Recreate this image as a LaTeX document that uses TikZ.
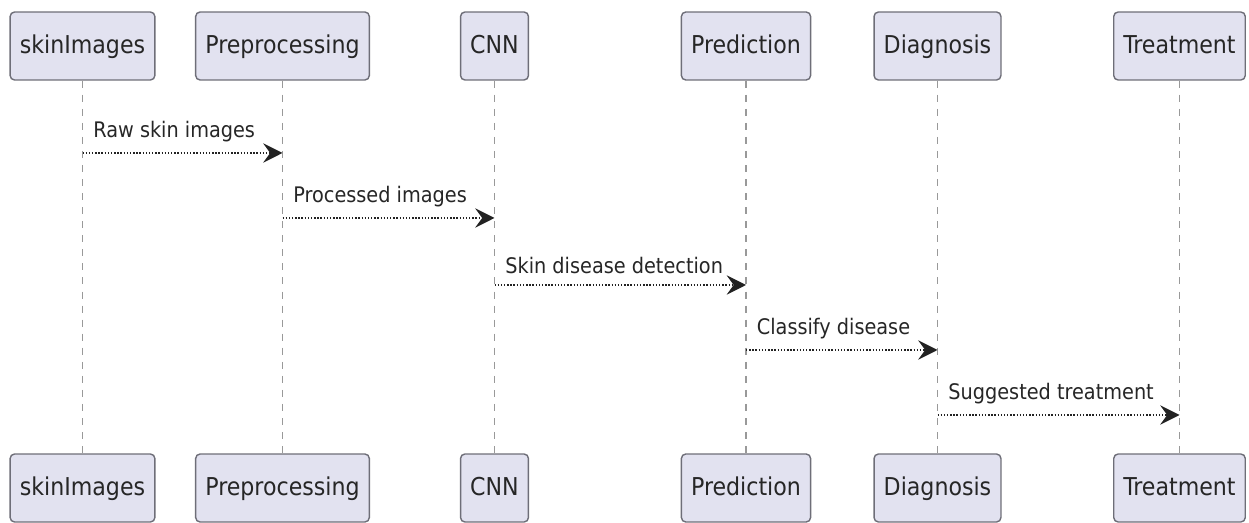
\documentclass[tikz,border=0pt]{standalone}
\usepackage{fontspec}
\setmainfont{DejaVu Sans Condensed}
\usetikzlibrary{arrows.meta, positioning}

\definecolor{partfill}{HTML}{E2E2F0}
\definecolor{partline}{HTML}{6E6E78}
\definecolor{msgline}{HTML}{222222}

\begin{document}
\begin{tikzpicture}[
  x=0.02cm, y=-0.02cm,
  part/.style={draw=partline, fill=partfill, rounded corners=2.5pt, line width=0.8pt,
               minimum height=1.36cm, inner xsep=5.5pt, font=\fontsize{14}{16}\selectfont,
               text height=1.8ex, text depth=0.3ex, text=black!85},
  life/.style={draw=gray!80, line width=0.6pt, dash pattern=on 4pt off 4pt},
  msg/.style={draw=msgline, line width=0.8pt, densely dotted,
              -{Stealth[length=11pt, width=11pt, inset=4pt]}},
  msglabel/.style={anchor=south west, inner sep=0pt, font=\fontsize{12.2}{14}\selectfont,
                   text=black!85}
]
  \useasboundingbox (0,0) rectangle (1249,523);

  % Participants, top row
  \node[part] (skin-t)  at (82.5,46)  {skinImages};
  \node[part] (prep-t)  at (282.5,46) {Preprocessing};
  \node[part] (cnn-t)   at (494.5,46) {CNN};
  \node[part] (pred-t)  at (746,46)   {Prediction};
  \node[part] (diag-t)  at (937.5,46) {Diagnosis};
  \node[part] (treat-t) at (1179.5,46) {Treatment};

  % Participants, bottom row
  \node[part] (skin-b)  at (82.5,488)  {skinImages};
  \node[part] (prep-b)  at (282.5,488) {Preprocessing};
  \node[part] (cnn-b)   at (494.5,488) {CNN};
  \node[part] (pred-b)  at (746,488)   {Prediction};
  \node[part] (diag-b)  at (937.5,488) {Diagnosis};
  \node[part] (treat-b) at (1179.5,488) {Treatment};

  % Lifelines
  \draw[life] (skin-t) -- (skin-b);
  \draw[life] (prep-t) -- (prep-b);
  \draw[life] (cnn-t) -- (cnn-b);
  \draw[life] (pred-t) -- (pred-b);
  \draw[life] (diag-t) -- (diag-b);
  \draw[life] (treat-t) -- (treat-b);

  % Message points on the lifelines
  \coordinate (m1a) at (skin-t.south |- 0,153);
  \coordinate (m1b) at (prep-t.south |- 0,153);
  \coordinate (m2a) at (prep-t.south |- 0,218);
  \coordinate (m2b) at (cnn-t.south |- 0,218);
  \coordinate (m3a) at (cnn-t.south |- 0,285);
  \coordinate (m3b) at (pred-t.south |- 0,285);
  \coordinate (m4a) at (pred-t.south |- 0,350);
  \coordinate (m4b) at (diag-t.south |- 0,350);
  \coordinate (m5a) at (diag-t.south |- 0,415);
  \coordinate (m5b) at (treat-t.south |- 0,415);

  % Messages
  \draw[msg] (m1a) -- (m1b);
  \node[msglabel] (l1) at ([xshift=6pt, yshift=6pt]m1a) {Raw skin images};
  \draw[msg] (m2a) -- (m2b);
  \node[msglabel] (l2) at ([xshift=6pt, yshift=6pt]m2a) {Processed images};
  \draw[msg] (m3a) -- (m3b);
  \node[msglabel] (l3) at ([xshift=6pt, yshift=6pt]m3a) {Skin disease detection};
  \draw[msg] (m4a) -- (m4b);
  \node[msglabel] (l4) at ([xshift=6pt, yshift=6pt]m4a) {Classify disease};
  \draw[msg] (m5a) -- (m5b);
  \node[msglabel] (l5) at ([xshift=6pt, yshift=6pt]m5a) {Suggested treatment};
\end{tikzpicture}
\end{document}
